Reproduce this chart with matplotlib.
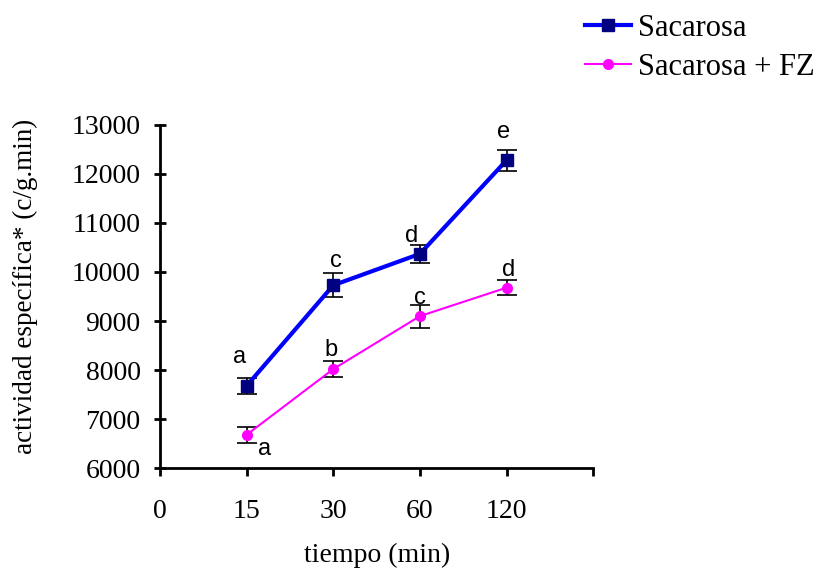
import numpy as np
import matplotlib
matplotlib.use("Agg")
import matplotlib.pyplot as plt

# data
times = ["0", "15", "30", "60", "120"]
x_pos = [1, 2, 3, 4]
sac = [7680, 9730, 10370, 12280]
sac_err = [165, 250, 190, 210]
fz = [6680, 8020, 9100, 9680]
fz_err = [165, 155, 235, 150]
sac_letters = ["a", "c", "d", "e"]
fz_letters = ["a", "b", "c", "d"]

serif = "Liberation Serif"
sans = "Liberation Sans"

fig = plt.figure(figsize=(8.17, 5.68), dpi=100)
ax = fig.add_axes([0.196, 0.176, 0.530, 0.604])

# error bars first, then lines on top
ax.errorbar(x_pos, sac, yerr=sac_err, fmt="none", ecolor="black",
            elinewidth=1.2, capsize=7, capthick=1.2, zorder=2)
ax.errorbar(x_pos, fz, yerr=fz_err, fmt="none", ecolor="black",
            elinewidth=1.2, capsize=7, capthick=1.2, zorder=2)
ax.plot(x_pos, sac, color="#0000FF", lw=3, marker="s", ms=9,
        mfc="#000080", mec="#000080", label="Sacarosa", zorder=3)
ax.plot(x_pos, fz, color="#FF00FF", lw=1.5, marker="o", ms=7,
        mfc="#FF00FF", mec="#FF00FF", label="Sacarosa + FZ", zorder=3)

# significance letters, offsets in pixels from the point
sac_off = [(-7, 29), (3, 24), (-8, 18), (-3, 28)]
fz_off = [(18, -14), (-2, 19), (0, 18), (2, 18)]
for i in range(4):
    ax.annotate(sac_letters[i], (x_pos[i], sac[i]), xytext=sac_off[i],
                textcoords="offset pixels", ha="center", va="center",
                fontsize=17, family=sans)
    ax.annotate(fz_letters[i], (x_pos[i], fz[i]), xytext=fz_off[i],
                textcoords="offset pixels", ha="center", va="center",
                fontsize=17, family=sans)

ax.set_xlim(0, 5)
ax.set_ylim(6000, 13000)
ax.set_xticks(range(6))
ax.set_xticklabels(times + [""])
ax.set_yticks(np.arange(6000, 13001, 1000))

for s in ["top", "right"]:
    ax.spines[s].set_visible(False)
for s in ["left", "bottom"]:
    ax.spines[s].set_linewidth(2)

ax.tick_params(axis="x", direction="out", length=6, width=2, pad=16)
ax.tick_params(axis="y", direction="inout", length=8, width=2, pad=10)
for lab in ax.get_xticklabels() + ax.get_yticklabels():
    lab.set_family(serif)
    lab.set_fontsize(20)

ax.set_xlabel("tiempo (min)", family=serif, fontsize=20)
ax.xaxis.set_label_coords(0.5, -0.217)
ax.set_ylabel("actividad específica* (c/g.min)", family=serif, fontsize=19.5)
ax.yaxis.set_label_coords(-0.282, 0.53)

fig.legend(loc="upper left", bbox_to_anchor=(0.716, 0.976), frameon=False,
           prop={"family": serif, "size": 22}, handlelength=1.5,
           handletextpad=0.25, labelspacing=0.33, borderpad=0,
           borderaxespad=0)

fig.savefig("out.png", dpi=100)
